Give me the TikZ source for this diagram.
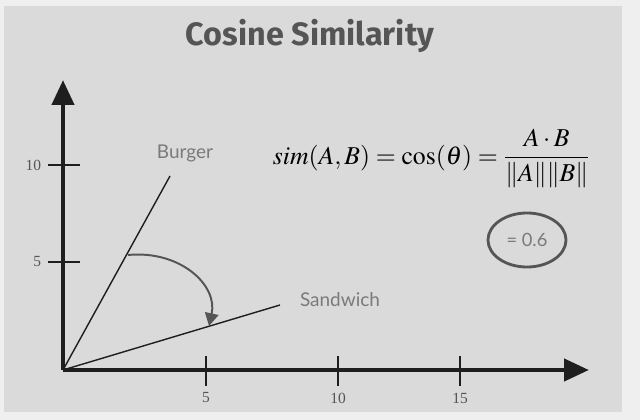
\documentclass[tikz,border=0pt]{standalone}
\usepackage{mathptmx}
\usepackage{fontspec}
\setmainfont{Liberation Serif}
\newfontfamily\titlefont{Fira Sans}
\newfontfamily\handfont{Lato}
\usetikzlibrary{arrows.meta,shapes.geometric}
\definecolor{CSBack}{HTML}{DADADA}
\definecolor{CSFrame}{HTML}{EFEFEF}
\definecolor{CSAxis}{HTML}{1E1E1E}
\definecolor{CSTitle}{HTML}{555555}
\definecolor{CSHand}{HTML}{7A7A7A}
\definecolor{CSArc}{HTML}{555555}

\begin{document}
\begin{tikzpicture}[
  x=0.025cm,y=-0.025cm,
  axis/.style={draw=CSAxis,line width=3.5pt,
    -{Triangle[length=6.2mm,width=5.4mm]}},
  vec/.style={draw=CSAxis,line width=1pt},
  tick/.style={draw=CSAxis,line width=1.4pt},
  ticklabel/.style={font=\fontsize{11}{13}\selectfont,text=CSTitle},
  hand/.style={font=\handfont\fontsize{13.5}{15}\selectfont,text=CSHand},
  turn/.style={draw=CSArc,line width=1.4pt,
    -{Triangle[length=3.2mm,width=3.4mm]}},
  result/.style={ellipse,draw=CSArc,line width=2pt,minimum width=1.95cm,
    minimum height=1.35cm,inner sep=0pt,
    font=\handfont\fontsize{13}{15}\selectfont,text=CSHand}
]

% Page frame and grey slide; y grows downward so pixel positions read directly.
\useasboundingbox (0,0) rectangle (640,420);
\fill[CSFrame] (0,0) rectangle (640,420);
\fill[CSBack] (4,6) rectangle (622,412);

\node[font=\titlefont\bfseries\fontsize{23}{27}\selectfont,text=CSTitle]
  (title) at (310,36) {Cosine Similarity};

\coordinate (O) at (63,370);
\coordinate (ytop) at (63,80);
\coordinate (xend) at (589,370);
\coordinate (burgerend) at (170,176);
\coordinate (sandend) at (280,305);
\coordinate (arcstart) at (128,255);
\coordinate (arcend) at (209,326);

\draw[axis] (O) -- (ytop);
\draw[axis] (O) -- (xend);

% Ticks on both axes.
\foreach \ty/\lbl in {165/10,262/5}{
  \draw[tick] (48,\ty) -- (80,\ty);
  \node[ticklabel,anchor=east] at (46,\ty) {\lbl};
}
\foreach \tx/\lbl in {206/5,338/10,460/15}{
  \draw[tick] (\tx,356) -- (\tx,386);
  \node[ticklabel] at (\tx,398) {\lbl};
}

\draw[vec] (O) -- (burgerend);
\draw[vec] (O) -- (sandend);
\node[hand] (burger) at (185,153) {Burger};
\node[hand] (sandwich) at (340,300) {Sandwich};

\draw[turn] (arcstart) .. controls (180,250) and (218,285) .. (arcend);

\node[font=\fontsize{18.3}{22}\selectfont,anchor=west] (formula) at (268,159)
  {$\displaystyle sim(A,B)=\cos(\theta)=\frac{A\cdot B}{\|A\|\|B\|}$};

\node[result] (value) at (527,240) {= 0.6};

\end{tikzpicture}
\end{document}
